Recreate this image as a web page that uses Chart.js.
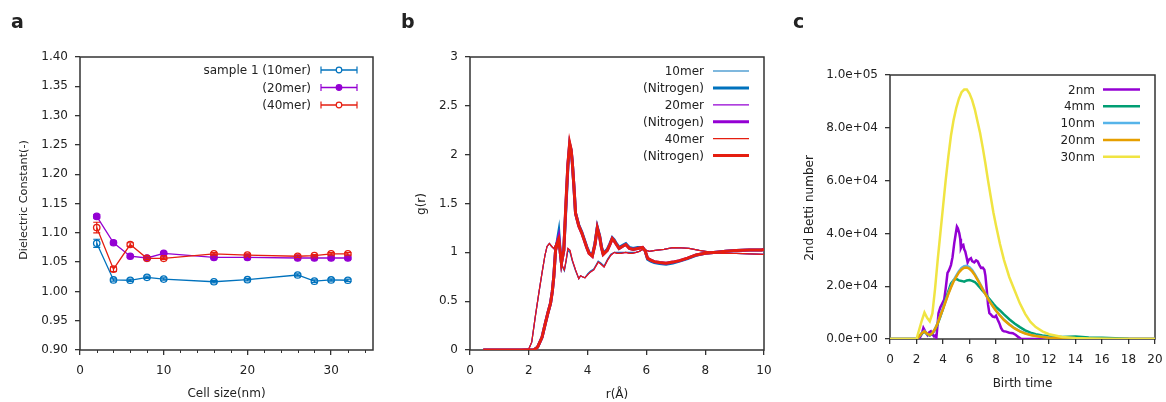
<!DOCTYPE html>
<html>
<head>
<meta charset="utf-8">
<script src="https://cdn.jsdelivr.net/npm/chart.js@4.4.1/dist/chart.umd.min.js"></script>
<style>
  body { margin: 0; background: #fff; }
  #wrap { position: relative; width: 1166px; height: 402px; }
  canvas { position: absolute; top: 0; }
</style>
</head>
<body>
<div id="wrap">
  <canvas id="chartA" width="390" height="402" style="left:0"></canvas>
  <canvas id="chartB" width="390" height="402" style="left:390px"></canvas>
  <canvas id="chartC" width="386" height="402" style="left:780px"></canvas>
</div>
<script>
// ---- panel a: dielectric constant vs cell size
const cellSize = [2, 4, 6, 8, 10, 16, 20, 26, 28, 30, 32];
const eps10 = [1.082, 1.0195, 1.019, 1.024, 1.021, 1.0165, 1.020, 1.028, 1.0175, 1.0195, 1.019];
const eps20 = [1.128, 1.083, 1.060, 1.057, 1.065, 1.058, 1.058, 1.057, 1.057, 1.057, 1.057];
const eps40 = [1.109, 1.038, 1.080, 1.0565, 1.0565, 1.064, 1.062, 1.060, 1.061, 1.064, 1.064];
const err10 = [0.007, 0.002, 0.002, 0.002, 0.002, 0.002, 0.002, 0.002, 0.002, 0.002, 0.002];
const err20 = [0.003, 0.003, 0.002, 0.002, 0.002, 0.002, 0.002, 0.002, 0.002, 0.002, 0.002];
const err40 = [0.009, 0.004, 0.003, 0.002, 0.002, 0.002, 0.002, 0.002, 0.002, 0.002, 0.002];
const namesA = ["sample 1 (10mer)", "(20mer)", "(40mer)"];

// ---- panel b: radial distribution g(r)
const rThin = [0.45, 1.0, 1.5, 2.0, 2.1, 2.22, 2.35, 2.45, 2.55, 2.62, 2.7, 2.78, 2.85, 2.92, 3.0, 3.06, 3.11, 3.16, 3.21, 3.27,
  3.33, 3.4, 3.48, 3.59, 3.7, 3.76, 3.82, 3.91, 4.0, 4.1, 4.21, 4.36, 4.45, 4.56, 4.68, 4.79, 4.91, 5.0, 5.14, 5.3,
  5.42, 5.53, 5.65, 5.76, 5.87, 6.0, 6.1, 6.3, 6.6, 6.9, 7.2, 7.45, 7.8, 8.27, 8.6, 9.06, 9.5, 10.0];
const gThin10 = [0, 0, 0, 0.01, 0.08, 0.34, 0.6, 0.79, 0.97, 1.06, 1.09, 1.06, 1.04, 1.08, 1.17, 1.0, 0.87, 0.84, 0.81, 0.91,
  1.02, 1.0, 0.91, 0.81, 0.73, 0.76, 0.75, 0.74, 0.78, 0.81, 0.83, 0.91, 0.89, 0.86, 0.93, 0.98, 1.0, 1.0, 1.0, 1.0,
  1.0, 1.0, 1.0, 1.01, 1.03, 1.02, 1.01, 1.02, 1.03, 1.048, 1.045, 1.04, 1.02, 0.997, 0.99, 0.99, 0.985, 0.98];
const gThin20 = [0, 0, 0, 0.01, 0.08, 0.34, 0.6, 0.79, 0.97, 1.06, 1.09, 1.06, 1.04, 1.08, 1.16, 1.0, 0.88, 0.85, 0.82, 0.92,
  1.04, 1.02, 0.92, 0.82, 0.73, 0.76, 0.75, 0.74, 0.77, 0.8, 0.82, 0.9, 0.88, 0.85, 0.92, 0.97, 1.0, 0.99, 0.99, 1.0,
  0.99, 0.99, 1.0, 1.01, 1.03, 1.02, 1.01, 1.02, 1.03, 1.048, 1.045, 1.04, 1.02, 0.997, 0.99, 0.99, 0.985, 0.98];
const gThin40 = [0, 0, 0, 0.01, 0.08, 0.34, 0.6, 0.79, 0.97, 1.06, 1.09, 1.06, 1.04, 1.08, 1.15, 1.0, 0.88, 0.85, 0.82, 0.92,
  1.04, 1.02, 0.92, 0.82, 0.73, 0.76, 0.75, 0.74, 0.77, 0.8, 0.82, 0.9, 0.88, 0.85, 0.92, 0.97, 1.0, 0.99, 0.99, 1.0,
  0.99, 0.99, 1.0, 1.01, 1.03, 1.02, 1.01, 1.02, 1.03, 1.048, 1.045, 1.04, 1.02, 0.997, 0.99, 0.99, 0.985, 0.98];
const rThick = [0.45, 1.0, 1.5, 2.0, 2.17, 2.3, 2.45, 2.56, 2.65, 2.74, 2.8, 2.85, 2.91, 2.96, 3.02, 3.07, 3.11, 3.19, 3.27, 3.33,
  3.39, 3.44, 3.48, 3.54, 3.59, 3.7, 3.8, 3.88, 3.97, 4.05, 4.16, 4.25, 4.33, 4.41, 4.47, 4.53, 4.67, 4.76, 4.84, 4.9,
  4.96, 5.07, 5.18, 5.3, 5.42, 5.55, 5.7, 5.87, 5.95, 6.04, 6.15, 6.27, 6.45, 6.67, 6.9, 7.13, 7.4, 7.69, 8.0, 8.38,
  8.7, 9.06, 9.5, 9.92, 10.0];
const gN10 = [0, 0, 0, 0, 0, 0.03, 0.13, 0.27, 0.38, 0.48, 0.6, 0.75, 1.02, 1.1, 1.21, 1.0, 0.89, 1.02, 1.5, 1.88,
  2.1, 2.04, 1.92, 1.65, 1.4, 1.28, 1.21, 1.14, 1.06, 1.0, 0.97, 1.09, 1.26, 1.17, 1.06, 0.99, 1.03, 1.09, 1.15, 1.13,
  1.1, 1.05, 1.07, 1.09, 1.05, 1.04, 1.05, 1.05, 1.02, 0.93, 0.91, 0.895, 0.885, 0.878, 0.89, 0.91, 0.935, 0.97, 0.99, 1.0,
  1.01, 1.02, 1.025, 1.025, 1.03];
const gN20 = [0, 0, 0, 0, 0, 0.03, 0.13, 0.27, 0.38, 0.48, 0.6, 0.75, 1.02, 1.09, 1.16, 1.0, 0.89, 1.02, 1.53, 1.9,
  2.11, 2.05, 1.92, 1.65, 1.4, 1.27, 1.2, 1.13, 1.05, 0.99, 0.96, 1.08, 1.25, 1.16, 1.05, 0.98, 1.02, 1.08, 1.14, 1.12,
  1.09, 1.04, 1.06, 1.08, 1.04, 1.03, 1.04, 1.05, 1.02, 0.94, 0.92, 0.905, 0.895, 0.888, 0.9, 0.915, 0.94, 0.973, 0.99, 1.0,
  1.01, 1.02, 1.025, 1.025, 1.03];
const gN40 = [0, 0, 0, 0, 0, 0.03, 0.13, 0.27, 0.38, 0.48, 0.6, 0.75, 1.02, 1.08, 1.13, 1.0, 0.89, 1.02, 1.55, 1.9,
  2.12, 2.05, 1.92, 1.65, 1.4, 1.27, 1.2, 1.13, 1.05, 0.99, 0.96, 1.08, 1.25, 1.16, 1.05, 0.98, 1.02, 1.08, 1.14, 1.12,
  1.09, 1.04, 1.06, 1.08, 1.04, 1.03, 1.04, 1.05, 1.02, 0.94, 0.92, 0.905, 0.895, 0.888, 0.9, 0.915, 0.94, 0.973, 0.99, 1.0,
  1.01, 1.02, 1.025, 1.025, 1.03];
const namesB = ["10mer", "(Nitrogen)", "20mer", "(Nitrogen)", "40mer", "(Nitrogen)"];

// ---- panel c: 2nd Betti number vs birth time
const birthTime = [0, 1, 2.0, 2.2, 2.4, 2.6, 2.8, 3.0, 3.2, 3.4, 3.6, 3.8, 4.0, 4.2, 4.4, 4.6, 4.8, 5.0, 5.2, 5.4,
  5.6, 5.8, 6.0, 6.2, 6.4, 6.6, 6.8, 7.0, 7.2, 7.4, 7.6, 7.8, 8.0, 8.3, 8.6, 9.0, 9.4, 9.8, 10.2, 10.6,
  11.0, 11.5, 12, 13, 14, 15, 16, 17, 18, 20];
const betti4 = [0, 0, 0, 800, 2000, 2800, 1800, 1300, 2000, 3500, 5800, 8500, 11500, 15000, 18000, 21000, 22300, 22800, 22200, 22000,
  21700, 22200, 22300, 22000, 21600, 20600, 19400, 18200, 17200, 15800, 14600, 13300, 12200, 10800, 9300, 7500, 5900, 4500, 3300, 2400,
  1800, 1300, 1000, 800, 900, 600, 500, 300, 100, 0];
const betti10 = [0, 0, 0, 1100, 2300, 3000, 2100, 1500, 2300, 3900, 6100, 8900, 11500, 14400, 17300, 19900, 22200, 24000, 25700, 26900,
  27600, 27700, 27200, 26100, 24600, 22800, 20900, 19000, 17100, 15300, 13700, 12200, 10800, 9000, 7300, 5600, 4100, 3000, 2200, 1600,
  1200, 850, 550, 250, 100, 0, 0, 0, 0, 0];
const betti20 = [0, 0, 0, 1000, 2200, 2900, 2000, 1500, 2200, 3800, 6000, 8800, 11300, 14200, 17000, 19500, 21800, 23500, 25200, 26300,
  27000, 27100, 26600, 25600, 24200, 22500, 20700, 18800, 17000, 15200, 13600, 12100, 10700, 8900, 7200, 5500, 4000, 2900, 2100, 1500,
  1100, 800, 500, 200, 100, 0, 0, 0, 0, 0];
const betti30 = [0, 0, 0, 3500, 7000, 10000, 8000, 6700, 9700, 19000, 30000, 40000, 50000, 60000, 69000, 77000, 83000, 87500, 91000, 93500,
  94500, 94500, 93000, 90500, 87000, 82500, 78000, 72500, 66500, 60000, 54000, 48000, 43000, 36000, 30000, 23500, 18500, 13500, 9500, 6500,
  4500, 2900, 1800, 800, 400, 200, 100, 0, 0, 0];
const birthTime2 = [0, 2.2, 2.4, 2.52, 2.65, 2.83, 2.95, 3.08, 3.2, 3.33, 3.45, 3.5, 3.58, 3.66, 3.8, 3.95, 4.09, 4.2, 4.34, 4.45,
  4.6, 4.72, 4.85, 4.95, 5.05, 5.12, 5.23, 5.3, 5.35, 5.45, 5.53, 5.6, 5.68, 5.78, 5.86, 5.95, 6.11, 6.2, 6.36, 6.5,
  6.62, 6.75, 6.87, 7.0, 7.12, 7.2, 7.3, 7.4, 7.5, 7.62, 7.75, 7.9, 8.0, 8.13, 8.25, 8.38, 8.5, 8.6, 8.76, 9.0,
  9.27, 9.5, 9.65, 9.8, 9.9, 20];
const betti2 = [0, 0, 2000, 4200, 3000, 1500, 2500, 2900, 1800, 1000, 1500, 500, 5000, 9800, 12000, 13500, 14900, 19000, 25000, 26000,
  28000, 31000, 36300, 39500, 42600, 42000, 40000, 38000, 34400, 35500, 35700, 34000, 33200, 31000, 29000, 30000, 30600, 29500, 29000, 29800,
  29400, 28000, 26900, 27000, 26200, 24000, 18700, 13000, 9800, 9200, 8500, 8300, 8800, 7300, 6000, 4200, 3200, 2900, 2800, 2400,
  2200, 1500, 900, 400, 0, 0];
const namesC = ["2nm", "4mm", "10nm", "20nm", "30nm"];

const FONT = '"DejaVu Sans", Verdana, sans-serif';
const INK = "#222";
const AXIS = "#333";
Chart.defaults.font.family = FONT;
Chart.defaults.font.size = 12;
Chart.defaults.color = INK;

function pts(xs, ys) {
  return xs.map((x, i) => ({ x: x, y: ys[i] }));
}

// fixed axis box sizes, edge label padding switched off so the layout padding alone sets the plot area
function axis(min, max, step, fit, cb, isY) {
  return {
    type: "linear",
    min: min, max: max,
    ticks: { stepSize: step, padding: isY ? 7 : 9, color: INK, font: { size: 12 }, callback: cb, maxRotation: 0, autoSkip: false },
    grid: { display: true, drawOnChartArea: false, drawTicks: true, tickLength: 5, color: AXIS, lineWidth: 1.3 },
    border: { display: false },
    afterFit: s => {
      if (isY) { s.width = fit; s.paddingTop = 0; s.paddingBottom = 0; }
      else { s.height = fit; s.paddingLeft = 0; s.paddingRight = 0; }
    }
  };
}

// box, titles, letter and a gnuplot style legend (text on the left)
function decor(o) {
  return {
    id: "decor",
    beforeDatasetsDraw(chart) {
      const ctx = chart.ctx, a = chart.chartArea;
      ctx.save();
      ctx.strokeStyle = AXIS;
      ctx.lineWidth = 1.5;
      ctx.strokeRect(a.left, a.top, a.right - a.left, a.bottom - a.top);
      if (o.minorX) {
        const sx = chart.scales.x;
        ctx.lineWidth = 1;
        o.minorX.forEach(v => {
          const x = Math.round(sx.getPixelForValue(v)) + 0.5;
          ctx.beginPath(); ctx.moveTo(x, a.bottom); ctx.lineTo(x, a.bottom + 3); ctx.stroke();
        });
      }
      ctx.restore();
    },
    afterDraw(chart) {
      const ctx = chart.ctx, a = chart.chartArea;
      ctx.save();
      ctx.fillStyle = INK;
      ctx.font = "bold 19px " + FONT;
      ctx.textAlign = "left";
      ctx.textBaseline = "alphabetic";
      ctx.fillText(o.letter, o.letterX, 28);

      ctx.font = "12px " + FONT;
      ctx.textAlign = "center";
      ctx.textBaseline = "middle";
      ctx.fillText(o.xTitle, (a.left + a.right) / 2, o.xTitleY);
      ctx.save();
      ctx.translate(o.yTitleX, o.yTitleMid);
      ctx.rotate(-Math.PI / 2);
      ctx.font = (o.yTitleSize || 12) + "px " + FONT;
      ctx.fillText(o.yTitle, 0, 0);
      ctx.restore();

      ctx.textAlign = "right";
      chart.data.datasets.forEach((ds, i) => {
        const y = o.legY + i * o.legStep;
        ctx.fillStyle = INK;
        ctx.fillText(o.names[i], o.legTextX, y + 1);
        ctx.strokeStyle = ds.borderColor;
        ctx.lineWidth = ds.borderWidth;
        ctx.beginPath(); ctx.moveTo(o.legX0, y); ctx.lineTo(o.legX1, y); ctx.stroke();
        if (ds.errors) {
          ctx.lineWidth = 1.2;
          [o.legX0, o.legX1].forEach(x => {
            ctx.beginPath(); ctx.moveTo(x, y - 3.5); ctx.lineTo(x, y + 3.5); ctx.stroke();
          });
          const mx = (o.legX0 + o.legX1) / 2;
          ctx.beginPath(); ctx.arc(mx, y, 2.8, 0, Math.PI * 2);
          if (ds.pointBackgroundColor !== "rgba(0,0,0,0)") { ctx.fillStyle = ds.borderColor; ctx.fill(); }
          else { ctx.fillStyle = "#fff"; ctx.fill(); }
          ctx.stroke();
        }
      });
      ctx.restore();
    }
  };
}

const errorBars = {
  id: "errorBars",
  afterDatasetsDraw(chart) {
    const ctx = chart.ctx, sx = chart.scales.x, sy = chart.scales.y;
    ctx.save();
    chart.data.datasets.forEach(ds => {
      if (!ds.errors) return;
      ctx.strokeStyle = ds.borderColor;
      ctx.lineWidth = 1.2;
      ds.data.forEach((p, i) => {
        const x = sx.getPixelForValue(p.x);
        const y0 = sy.getPixelForValue(p.y - ds.errors[i]);
        const y1 = sy.getPixelForValue(p.y + ds.errors[i]);
        ctx.beginPath();
        ctx.moveTo(x, y0); ctx.lineTo(x, y1);
        ctx.moveTo(x - 3.5, y0); ctx.lineTo(x + 3.5, y0);
        ctx.moveTo(x - 3.5, y1); ctx.lineTo(x + 3.5, y1);
        ctx.stroke();
      });
    });
    ctx.restore();
  }
};

const common = {
  responsive: false,
  animation: false,
  devicePixelRatio: 1,
  plugins: { legend: { display: false }, tooltip: { enabled: false } }
};

// ---------- panel a
const colA = ["#0072bd", "#9400d3", "#e51e10"];
const epsA = [eps10, eps20, eps40];
const errA = [err10, err20, err40];
new Chart(document.getElementById("chartA"), {
  type: "line",
  data: {
    datasets: epsA.map((v, i) => ({
      data: pts(cellSize, v),
      errors: errA[i],
      borderColor: colA[i],
      borderWidth: 1.3,
      pointRadius: 3.2,
      pointBorderWidth: 1.3,
      pointBorderColor: colA[i],
      pointBackgroundColor: i === 1 ? colA[i] : "rgba(0,0,0,0)",
      tension: 0,
      order: -i
    }))
  },
  options: Object.assign({}, common, {
    layout: { padding: { left: 0, top: 57, right: 17, bottom: 22 } },
    scales: {
      x: Object.assign(axis(0, 35, 10, 30, v => v, false), {
        afterBuildTicks: s => { s.ticks = s.ticks.filter(t => t.value % 10 === 0); }
      }),
      y: axis(0.9, 1.4, 0.05, 80, v => v.toFixed(2), true)
    }
  }),
  plugins: [errorBars, decor({
    letter: "a", letterX: 11,
    xTitle: "Cell size(nm)", xTitleY: 394,
    yTitle: "Dielectric Constant(-)", yTitleX: 24, yTitleMid: 200, yTitleSize: 11.2,
    names: namesA, legY: 70, legStep: 17.5, legTextX: 311, legX0: 321, legX1: 357,
    minorX: [2, 4, 6, 8, 12, 14, 16, 18, 22, 24, 26, 28, 32, 34]
  })]
});

// ---------- panel b
const colB = ["#0072bd", "#0072bd", "#9400d3", "#9400d3", "#e51e10", "#e51e10"];
const seriesB = [pts(rThin, gThin10), pts(rThick, gN10), pts(rThin, gThin20), pts(rThick, gN20), pts(rThin, gThin40), pts(rThick, gN40)];
new Chart(document.getElementById("chartB"), {
  type: "line",
  data: {
    datasets: seriesB.map((d, i) => ({
      data: d,
      borderColor: colB[i],
      borderWidth: i % 2 ? 3 : 1.2,
      pointRadius: 0,
      tension: 0,
      order: -i
    }))
  },
  options: Object.assign({}, common, {
    layout: { padding: { left: 0, top: 57, right: 16, bottom: 22 } },
    scales: {
      x: axis(0, 10, 2, 30, v => v, false),
      y: axis(0, 3, 0.5, 80, v => String(Math.round(v * 10) / 10), true)
    }
  }),
  plugins: [decor({
    letter: "b", letterX: 11,
    xTitle: "r(Å)", xTitleY: 395,
    yTitle: "g(r)", yTitleX: 32, yTitleMid: 204,
    names: namesB, legY: 71, legStep: 16.9, legTextX: 314, legX0: 323, legX1: 359
  })]
});

// ---------- panel c
const colC = ["#9400d3", "#009e73", "#56b4e9", "#e69f00", "#f0e442"];
const seriesC = [pts(birthTime2, betti2), pts(birthTime, betti4), pts(birthTime, betti10), pts(birthTime, betti20), pts(birthTime, betti30)];
function expLabel(v) {
  const parts = Number(v).toExponential(1).split("e");
  const e = parseInt(parts[1], 10);
  return parts[0] + "e" + (e < 0 ? "-" : "+") + String(Math.abs(e)).padStart(2, "0");
}
new Chart(document.getElementById("chartC"), {
  type: "line",
  data: {
    datasets: seriesC.map((d, i) => ({
      data: d,
      borderColor: colC[i],
      borderWidth: 2.5,
      pointRadius: 0,
      tension: 0,
      order: -i
    }))
  },
  options: Object.assign({}, common, {
    layout: { padding: { left: 0, top: 75, right: 11, bottom: 33 } },
    scales: {
      x: axis(0, 20, 2, 30, v => v, false),
      y: axis(0, 100000, 20000, 110, expLabel, true)
    }
  }),
  plugins: [decor({
    letter: "c", letterX: 13,
    xTitle: "Birth time", xTitleY: 384,
    yTitle: "2nd Betti number", yTitleX: 30, yTitleMid: 208,
    names: namesC, legY: 89.5, legStep: 16.8, legTextX: 315, legX0: 323, legX1: 360
  })]
});
</script>
</body>
</html>
